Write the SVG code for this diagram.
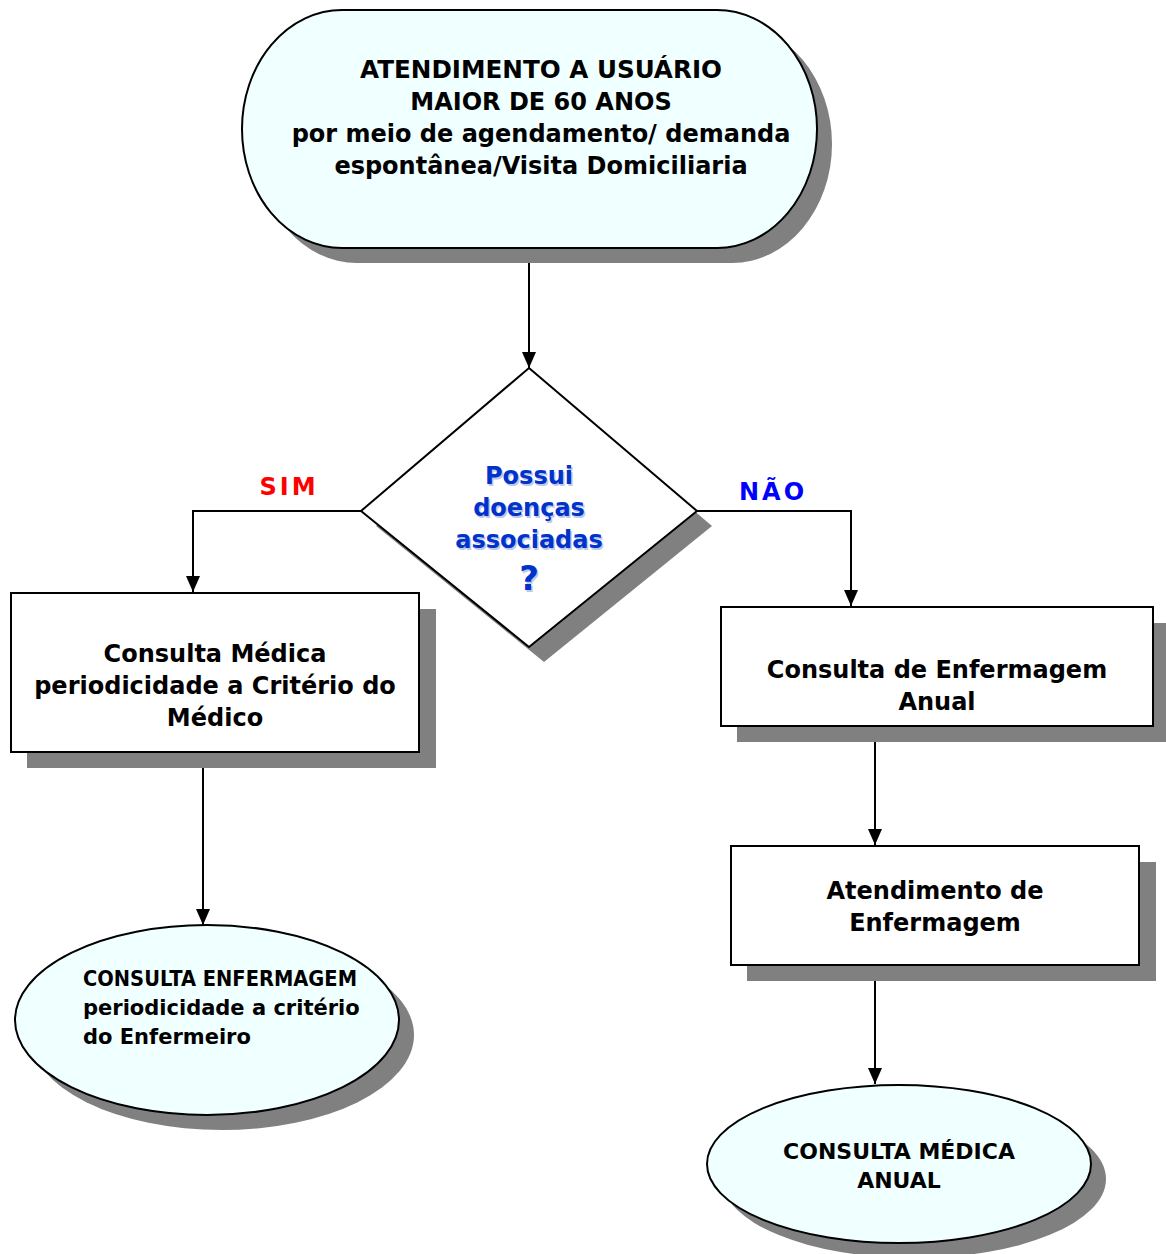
<svg xmlns="http://www.w3.org/2000/svg" width="1166" height="1254" viewBox="0 0 1166 1254">
<style>
  .t { font-family: "DejaVu Sans", "Liberation Sans", sans-serif; font-weight: bold; fill: #000; }
  .shadow { fill: #808080; stroke: none; }
  .node { stroke: #000; stroke-width: 2; }
  .term { fill: #F0FFFF; }
  .box { fill: #FFFFFF; }
  .conn { stroke: #000; stroke-width: 2; fill: none; marker-end: url(#arr); }
  .q { font-family: "DejaVu Sans", "Liberation Sans", sans-serif; font-weight: bold; fill: #0033CC; }
</style>
<defs>
  <marker id="arr" markerWidth="16" markerHeight="14" refX="16" refY="7" orient="auto" markerUnits="userSpaceOnUse" viewBox="0 0 16 14">
    <path d="M0,0 L16,7 L0,14 Z" fill="#000"/>
  </marker>
</defs>

<g id="connectors">
  <path class="conn" d="M529,248 V368"/>
  <path class="conn" d="M361,511 H193 V592"/>
  <path class="conn" d="M697,511 H851 V606"/>
  <path class="conn" d="M203,752 V925"/>
  <path class="conn" d="M875,726 V845"/>
  <path class="conn" d="M875,965 V1084"/>
</g>

<text x="289" y="495" text-anchor="middle" font-family="DejaVu Sans, sans-serif" font-weight="bold" font-size="24" letter-spacing="3" fill="#FF0000">SIM</text>
<text x="773" y="500" text-anchor="middle" font-family="DejaVu Sans, sans-serif" font-weight="bold" font-size="24" letter-spacing="3" fill="#0000FF">NÃO</text>

<g id="start">
  <rect class="shadow" x="257" y="25" width="575" height="238" rx="100" ry="119"/>
  <rect class="node term" x="242" y="10" width="575" height="238" rx="100" ry="119"/>
  <g class="t" font-size="24" text-anchor="middle">
    <text x="541" y="78" textLength="362" lengthAdjust="spacingAndGlyphs">ATENDIMENTO A USUÁRIO</text>
    <text x="541" y="110">MAIOR DE 60 ANOS</text>
    <text x="541" y="142">por meio de agendamento/ demanda</text>
    <text x="541" y="174">espontânea/Visita Domiciliaria</text>
  </g>
</g>

<g id="decision">
  <polygon class="shadow" points="544,383 712,526 544,662 376,526"/>
  <polygon class="node box" points="529,368 697,511 529,647 361,511"/>
  <g font-size="24" text-anchor="middle">
    <g fill="#C0C8E8" font-family="DejaVu Sans, sans-serif" font-weight="bold" transform="translate(1.5 1.5)">
      <text x="529" y="484">Possui</text>
      <text x="529" y="516">doenças</text>
      <text x="529" y="548">associadas</text>
      <text x="529" y="590" font-size="34">?</text>
    </g>
    <text class="q" x="529" y="484">Possui</text>
    <text class="q" x="529" y="516">doenças</text>
    <text class="q" x="529" y="548">associadas</text>
    <text class="q" x="529" y="590" font-size="34">?</text>
  </g>
</g>

<g id="consulta-medica">
  <rect class="shadow" x="27" y="609" width="409" height="159"/>
  <rect class="node box" x="11" y="593" width="408" height="159"/>
  <g class="t" font-size="24" text-anchor="middle">
    <text x="215" y="662">Consulta Médica</text>
    <text x="215" y="694">periodicidade a Critério do</text>
    <text x="215" y="726">Médico</text>
  </g>
</g>

<g id="consulta-enfermagem-periodica">
  <ellipse class="shadow" cx="222" cy="1035" rx="192" ry="95"/>
  <ellipse class="node term" cx="207" cy="1020" rx="192" ry="95"/>
  <g class="t" font-size="21">
    <text x="83" y="986" textLength="274" lengthAdjust="spacingAndGlyphs">CONSULTA ENFERMAGEM</text>
    <text x="83" y="1015">periodicidade a critério</text>
    <text x="83" y="1044">do Enfermeiro</text>
  </g>
</g>

<g id="consulta-enfermagem-anual">
  <rect class="shadow" x="737" y="623" width="429" height="119"/>
  <rect class="node box" x="721" y="607" width="432" height="119"/>
  <g class="t" font-size="24" text-anchor="middle">
    <text x="937" y="678">Consulta de Enfermagem</text>
    <text x="937" y="710">Anual</text>
  </g>
</g>

<g id="atendimento-enfermagem">
  <rect class="shadow" x="747" y="862" width="409" height="119"/>
  <rect class="node box" x="731" y="846" width="408" height="119"/>
  <g class="t" font-size="24" text-anchor="middle">
    <text x="935" y="899">Atendimento de</text>
    <text x="935" y="931">Enfermagem</text>
  </g>
</g>

<g id="consulta-medica-anual">
  <ellipse class="shadow" cx="914" cy="1179" rx="192" ry="79"/>
  <ellipse class="node term" cx="899" cy="1164" rx="192" ry="79"/>
  <g class="t" font-size="22" text-anchor="middle">
    <text x="899" y="1159">CONSULTA MÉDICA</text>
    <text x="899" y="1188">ANUAL</text>
  </g>
</g>
</svg>
